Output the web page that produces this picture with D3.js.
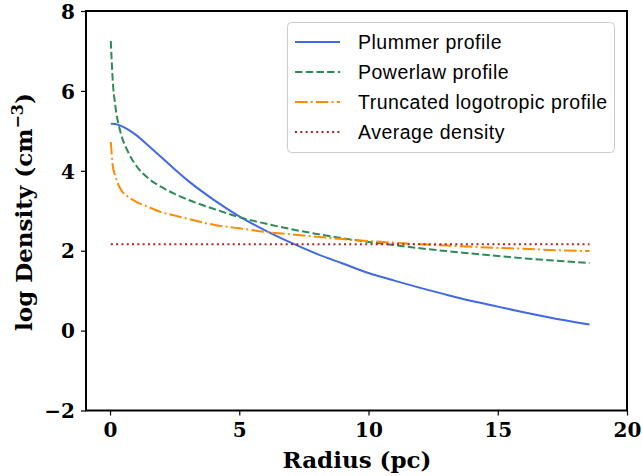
<!DOCTYPE html>
<html>
<head>
<meta charset="utf-8">
<script src="https://cdn.jsdelivr.net/npm/d3@7"></script>
<style>
  body { margin: 0; background: #fff; }
  .tick-label { font-family: "DejaVu Serif", serif; font-weight: bold; font-size: 20px; }
  .axis-label { font-family: "DejaVu Serif", serif; font-weight: bold; font-size: 23px; }
  .legend-text { font-family: "Liberation Sans", Arial, sans-serif; font-size: 19.5px; letter-spacing: 0.5px; }
</style>
</head>
<body>
<svg id="chart" width="642" height="476"></svg>
<script>
// Data
var radius = [0.03, 0.1, 0.2, 0.4, 0.7, 1.0, 1.5, 2.0, 2.5, 3.0, 4, 5, 6, 7, 8, 9, 10, 11, 12, 13, 14, 15, 16, 17, 18.55];
var plummer = [5.18, 5.18, 5.17, 5.13, 5.03, 4.90, 4.62, 4.33, 4.04, 3.76, 3.28, 2.86, 2.51, 2.20, 1.92, 1.68, 1.44, 1.25, 1.07, 0.90, 0.74, 0.60, 0.46, 0.33, 0.15];
var powerlaw = [7.25, 6.30, 5.65, 4.98, 4.47, 4.14, 3.80, 3.59, 3.42, 3.28, 3.05, 2.84, 2.68, 2.54, 2.42, 2.31, 2.22, 2.14, 2.06, 1.99, 1.93, 1.87, 1.81, 1.76, 1.69];
var logotropic = [4.72, 4.15, 3.88, 3.55, 3.35, 3.23, 3.09, 2.96, 2.88, 2.80, 2.65, 2.56, 2.47, 2.41, 2.35, 2.29, 2.24, 2.20, 2.16, 2.13, 2.10, 2.07, 2.05, 2.02, 1.99];
var avgDensity = 2.16;

var xTicks = [0, 5, 10, 15, 20];
var yTicks = [-2, 0, 2, 4, 6, 8];

var seriesNames = ["Plummer profile", "Powerlaw profile", "Truncated logotropic profile", "Average density"];

// Styles per series
var styles = [
  {color: "#4169e1", dash: null},
  {color: "#2e8b57", dash: "7.5,3.2"},
  {color: "#ff8c00", dash: "12.5,3.2,2,3.2"},
  {color: "#b22222", dash: "2,3.3"}
];

var svg = d3.select("#chart");

var pLeft = 86, pRight = 627, pTop = 11, pBottom = 410.5;

var x = d3.scaleLinear().domain([-0.93, 20]).range([pLeft, pRight]);
var y = d3.scaleLinear().domain([-2, 8]).range([pBottom, pTop]);

// Build series
var series = [
  radius.map(function (r, i) { return [r, plummer[i]]; }),
  radius.map(function (r, i) { return [r, powerlaw[i]]; }),
  radius.map(function (r, i) { return [r, logotropic[i]]; }),
  radius.map(function (r) { return [r, avgDensity]; })
];

var line = d3.line()
    .x(function (d) { return x(d[0]); })
    .y(function (d) { return y(d[1]); })
    .curve(d3.curveMonotoneX);

svg.append("g")
  .selectAll("path")
  .data(series)
  .enter().append("path")
    .attr("d", line)
    .attr("fill", "none")
    .attr("stroke", function (d, i) { return styles[i].color; })
    .attr("stroke-width", 2)
    .attr("stroke-dasharray", function (d, i) { return styles[i].dash; });

// Axes
var xAxis = svg.append("g")
    .attr("transform", "translate(0," + pBottom + ")")
    .call(d3.axisBottom(x).tickValues(xTicks).tickSize(5).tickPadding(6).tickFormat(d3.format("d")));

var yAxis = svg.append("g")
    .attr("transform", "translate(" + pLeft + ",0)")
    .call(d3.axisLeft(y).tickValues(yTicks).tickSize(5).tickPadding(6)
      .tickFormat(function (d) { return d < 0 ? "\u2212" + Math.abs(d) : d; }));

[xAxis, yAxis].forEach(function (a) {
  a.select(".domain").remove();
  a.selectAll(".tick line").attr("stroke", "#000").attr("stroke-width", 1.2);
  a.selectAll(".tick text").attr("class", "tick-label").attr("fill", "#000");
});
xAxis.selectAll(".tick text").attr("dy", "0.75em");
yAxis.selectAll(".tick text").attr("dy", "0.36em");

// Frame
svg.append("rect")
  .attr("x", pLeft)
  .attr("y", pTop)
  .attr("width", pRight - pLeft)
  .attr("height", pBottom - pTop)
  .attr("fill", "none")
  .attr("stroke", "#000")
  .attr("stroke-width", 2);

// Axis labels
svg.append("text")
  .attr("class", "axis-label")
  .attr("x", 357)
  .attr("y", 468)
  .attr("text-anchor", "middle")
  .text("Radius (pc)");

var yl = svg.append("text")
  .attr("class", "axis-label")
  .attr("transform", "translate(32,212) rotate(-90)")
  .attr("text-anchor", "middle");
yl.append("tspan").text("log Density (cm");
yl.append("tspan").attr("baseline-shift", "super").style("font-size", "16px").text("\u22123");
yl.append("tspan").text(")");

// Legend
var legend = svg.append("g");
legend.append("rect")
  .attr("x", 287.5)
  .attr("y", 22.5)
  .attr("width", 327)
  .attr("height", 130)
  .attr("rx", 4)
  .attr("fill", "#fff")
  .attr("fill-opacity", 0.8)
  .attr("stroke", "#cccccc");

var rows = legend.selectAll(".row")
  .data(seriesNames)
  .enter().append("g")
    .attr("transform", function (d, i) { return "translate(0," + (42 + i * 30) + ")"; });

rows.append("line")
  .attr("x1", 295)
  .attr("x2", 340)
  .attr("stroke", function (d, i) { return styles[i].color; })
  .attr("stroke-width", 2)
  .attr("stroke-dasharray", function (d, i) { return styles[i].dash; });

rows.append("text")
  .attr("class", "legend-text")
  .attr("x", 358)
  .attr("dy", "0.35em")
  .text(function (d) { return d; });
</script>
</body>
</html>
